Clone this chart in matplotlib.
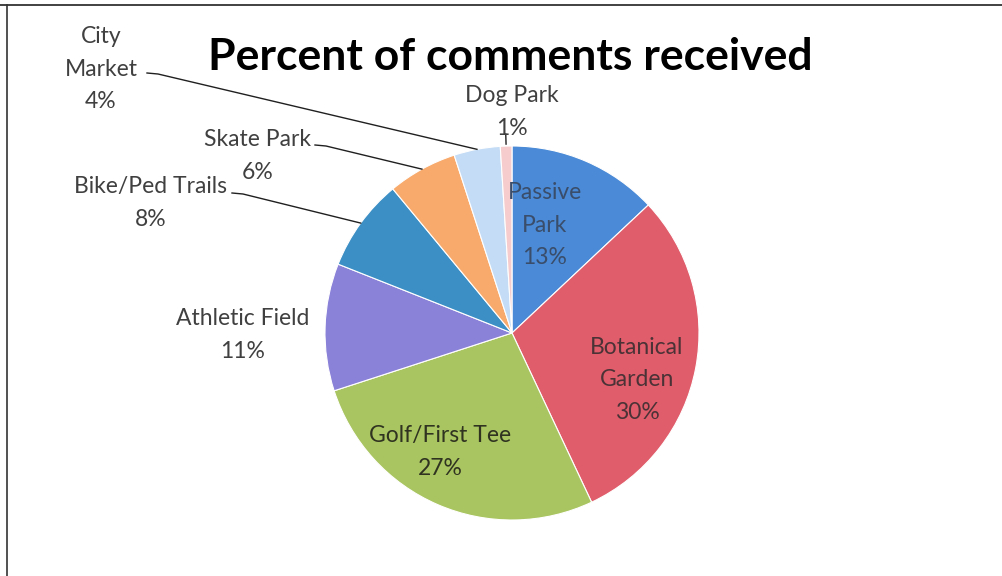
import numpy as np
import matplotlib
matplotlib.use('Agg')
import matplotlib.pyplot as plt

plt.rcParams['font.family'] = ['Lato', 'DejaVu Sans']

categories = ['Passive Park', 'Botanical Garden', 'Golf/First Tee', 'Athletic Field',
              'Bike/Ped Trails', 'Skate Park', 'City Market', 'Dog Park']
percents = [13, 30, 27, 11, 8, 6, 4, 1]
colors = ['#4a8ad6', '#e05d6b', '#a9c561', '#8a81d8', '#3c8fc4', '#f8aa6c', '#c4dcf6', '#f6cccc']

# label text (name split over lines) and where Excel put it, in pixels
label_lines = ['Passive\nPark', 'Botanical\nGarden', 'Golf/First Tee', 'Athletic Field',
               'Bike/Ped Trails', 'Skate Park', 'City\nMarket', 'Dog Park']
label_pos = [(545, 225), (637, 380), (440, 452), (243, 335),
             (151, 203), (258, 156), (101, 69), (512, 112)]
label_color = ['#3a4d6a', '#4a3236', '#2f3320', '#404040',
               '#404040', '#404040', '#404040', '#404040']
# leader lines: label side point (pixels); wedge side computed from the pie
leaders = {4: (232, 193), 5: (315, 145), 6: (147, 73)}

W, H = 1003, 576
cx, cy, R = 512, 333, 187

fig = plt.figure(figsize=(W / 100, H / 100), dpi=100)
ax = fig.add_axes([0, 0, 1, 1])

ax.pie(percents, colors=colors, startangle=90, counterclock=False,
       center=(cx, H - cy), radius=R,
       wedgeprops=dict(edgecolor='white', linewidth=0.8))
ax.set_xlim(0, W)
ax.set_ylim(0, H)
ax.set_aspect('equal')
ax.axis('off')

# mid angle of each wedge (degrees, math convention)
cum = np.cumsum([0] + percents[:-1])
mid = 90 - (cum + np.array(percents) / 2) / sum(percents) * 360

for i, name in enumerate(label_lines):
    x, y = label_pos[i]
    ax.text(x, H - y, '{}\n{}%'.format(name, percents[i]), ha='center', va='center',
            fontsize=16.5, color=label_color[i], linespacing=1.65)

for i, (lx, ly) in leaders.items():
    a = np.deg2rad(mid[i])
    ex, ey = cx + R * np.cos(a), cy - R * np.sin(a)
    ax.plot([lx, lx + 11, ex], [H - ly, H - ly - 1, H - ey], color='#202020', lw=1)

# dog park tick
a = np.deg2rad(mid[7])
ax.plot([cx + (R + 2) * np.cos(a), cx + (R + 12) * np.cos(a)],
        [H - cy + (R + 2) * np.sin(a), H - cy + (R + 12) * np.sin(a)], color='#202020', lw=1)

ax.text(510, H - 57, 'Percent of comments received', ha='center', va='center',
        fontsize=32, fontweight='bold', color='black')

# scanned frame
ax.plot([0, W], [H - 4.5, H - 4.5], color='#333333', lw=1.3)
ax.plot([7, 7], [H - 4.5, 0], color='#333333', lw=1.2)

fig.savefig('out.png', dpi=100)
